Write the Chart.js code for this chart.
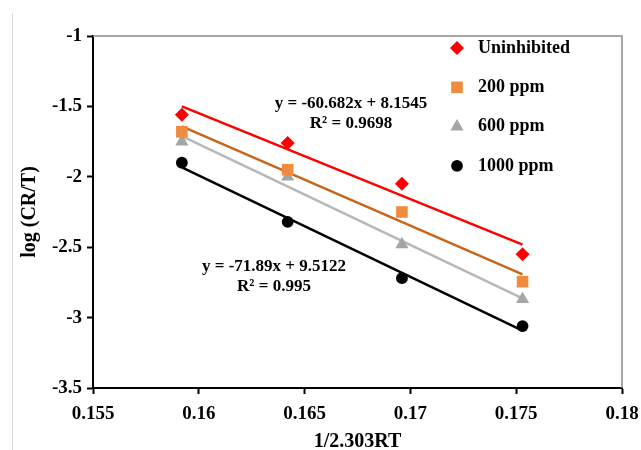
<!DOCTYPE html>
<html>
<head>
<meta charset="utf-8">
<script src="https://cdn.jsdelivr.net/npm/chart.js@4.4.1/dist/chart.umd.min.js"></script>
<style>
  body { margin: 0; background: #fff; }
  canvas { display: block; }
</style>
</head>
<body>
<canvas id="myChart" width="641" height="450"></canvas>
<script>
  // values
  var xValues = [0.1592, 0.1642, 0.1696, 0.1753];
  var uninhibited = [-1.56, -1.76, -2.05, -2.55];
  var ppm200 = [-1.68, -1.95, -2.25, -2.745];
  var ppm600 = [-1.75, -2.00, -2.48, -2.87];
  var ppm1000 = [-1.90, -2.32, -2.72, -3.06];

  var seriesNames = ['Uninhibited', '200 ppm', '600 ppm', '1000 ppm'];
  var xTickLabels = ['0.155', '0.16', '0.165', '0.17', '0.175', '0.18'];
  var yTickLabels = ['-3.5', '-3', '-2.5', '-2', '-1.5', '-1'];
  var eqRed = ['y = -60.682x + 8.1545', 'R\u00B2 = 0.9698'];
  var eqBlack = ['y = -71.89x + 9.5122', 'R\u00B2 = 0.995'];

  var markerColors = ['#FF0000', '#F08A3E', '#A5A5A5', '#000000'];
  var lineColors = ['#FF0000', '#C8651B', '#B7B7B7', '#000000'];
  var markerStyles = ['rectRot', 'rect', 'triangle', 'circle'];
  var markerRadius = [7, 8.2, 7.6, 5.9];
  var allSeries = [uninhibited, ppm200, ppm600, ppm1000];

  var FONT = '"Liberation Serif", "Times New Roman", serif';

  function points(ys) {
    return xValues.map(function (x, i) { return { x: x, y: ys[i] }; });
  }

  // least squares trendline, drawn from first to last x
  function trend(ys) {
    var n = xValues.length, mx = 0, my = 0, sxx = 0, sxy = 0;
    for (var i = 0; i < n; i++) { mx += xValues[i] / n; my += ys[i] / n; }
    for (var j = 0; j < n; j++) {
      sxx += (xValues[j] - mx) * (xValues[j] - mx);
      sxy += (xValues[j] - mx) * (ys[j] - my);
    }
    var b = sxy / sxx, a = my - b * mx;
    var x0 = xValues[0], x1 = xValues[n - 1];
    return [{ x: x0, y: a + b * x0 }, { x: x1, y: a + b * x1 }];
  }

  var datasets = [];
  allSeries.forEach(function (ys, k) {
    datasets.push({
      type: 'line',
      label: seriesNames[k] + ' fit',
      data: trend(ys),
      borderColor: lineColors[k],
      borderWidth: 2.5,
      pointRadius: 0,
      fill: false,
      order: 2
    });
  });
  allSeries.forEach(function (ys, k) {
    datasets.push({
      type: 'scatter',
      label: seriesNames[k],
      data: points(ys),
      pointStyle: markerStyles[k],
      pointRadius: markerRadius[k],
      pointHoverRadius: markerRadius[k],
      backgroundColor: markerColors[k],
      borderColor: markerColors[k],
      borderWidth: 0,
      order: 1
    });
  });

  // legend markers: use the library's own point drawing so they match the chart
  function drawMarker(ctx, style, x, y, r, color) {
    ctx.save();
    ctx.fillStyle = color;
    ctx.strokeStyle = color;
    ctx.lineWidth = 0;
    if (Chart.helpers && Chart.helpers.drawPoint) {
      Chart.helpers.drawPoint(ctx, { pointStyle: style, radius: r, rotation: 0, borderWidth: 0 }, x, y);
    } else {
      ctx.beginPath();
      ctx.arc(x, y, r, 0, Math.PI * 2);
      ctx.fill();
    }
    ctx.restore();
  }

  var extras = {
    id: 'extras',
    beforeDatasetsDraw: function (chart) {
      var ctx = chart.ctx, a = chart.chartArea;
      ctx.save();
      ctx.strokeStyle = '#8C8C8C';
      ctx.lineWidth = 1.5;
      ctx.beginPath();
      ctx.moveTo(a.left, a.top); ctx.lineTo(a.right, a.top); ctx.lineTo(a.right, a.bottom);
      ctx.stroke();
      // faint frame line at the left edge
      ctx.strokeStyle = '#D9D9D9';
      ctx.lineWidth = 1;
      ctx.beginPath();
      ctx.moveTo(12.5, 13); ctx.lineTo(12.5, 450);
      ctx.stroke();
      ctx.restore();
    },
    afterDraw: function (chart) {
      var ctx = chart.ctx, a = chart.chartArea;
      ctx.save();
      ctx.textBaseline = 'middle';
      // legend
      ctx.font = 'bold 18px ' + FONT;
      ctx.textAlign = 'left';
      seriesNames.forEach(function (name, k) {
        var y = a.top + 12 + k * 39.3;
        drawMarker(ctx, markerStyles[k], a.left + 364, y, markerRadius[k], markerColors[k]);
        ctx.fillStyle = '#000';
        ctx.fillText(name, a.left + 385, y);
      });
      // trendline equations
      ctx.fillStyle = '#000';
      ctx.font = 'bold 17px ' + FONT;
      ctx.textAlign = 'center';
      ctx.fillText(eqRed[0], a.left + 258, a.top + 68);
      ctx.fillText(eqRed[1], a.left + 258, a.top + 88);
      ctx.fillText(eqBlack[0], a.left + 181, a.top + 231);
      ctx.fillText(eqBlack[1], a.left + 181, a.top + 251);
      ctx.restore();
    }
  };

  var tickFont = { family: FONT, size: 19, weight: 'bold' };
  var titleFont = { family: FONT, size: 20, weight: 'bold', lineHeight: 0.8 };

  var chart = new Chart(document.getElementById('myChart').getContext('2d'), {
    type: 'scatter',
    data: { datasets: datasets },
    options: {
      responsive: false,
      animation: false,
      layout: { padding: { top: 36, right: 19, left: 0, bottom: 0 } },
      plugins: { legend: { display: false }, tooltip: { enabled: false } },
      scales: {
        x: {
          type: 'linear',
          min: 0.155,
          max: 0.18,
          ticks: {
            stepSize: 0.005,
            color: '#000',
            font: tickFont,
            padding: 9,
            maxRotation: 0,
            callback: function (v, i) { return xTickLabels[i]; }
          },
          grid: { drawOnChartArea: false, drawTicks: true, tickLength: 6, tickColor: '#000', tickWidth: 2 },
          border: { color: '#000', width: 2 },
          title: {
            display: true,
            text: '1/2.303RT',
            color: '#000',
            font: titleFont,
            padding: { top: 0, bottom: 0 }
          },
          afterFit: function (s) { s.height = 62; s.paddingLeft = 0; s.paddingRight = 0; }
        },
        y: {
          type: 'linear',
          min: -3.5,
          max: -1,
          ticks: {
            stepSize: 0.5,
            color: '#000',
            font: tickFont,
            padding: 5,
            callback: function (v, i) { return yTickLabels[i]; }
          },
          grid: { drawOnChartArea: false, drawTicks: true, tickLength: 6, tickColor: '#000', tickWidth: 2 },
          border: { color: '#000', width: 2 },
          title: {
            display: true,
            text: 'log (CR/T)',
            color: '#000',
            font: titleFont,
            padding: { top: 22, bottom: 0 }
          },
          afterFit: function (s) { s.width = 93; s.paddingTop = 0; s.paddingBottom = 0; }
        }
      }
    },
    plugins: [extras]
  });
</script>
</body>
</html>
